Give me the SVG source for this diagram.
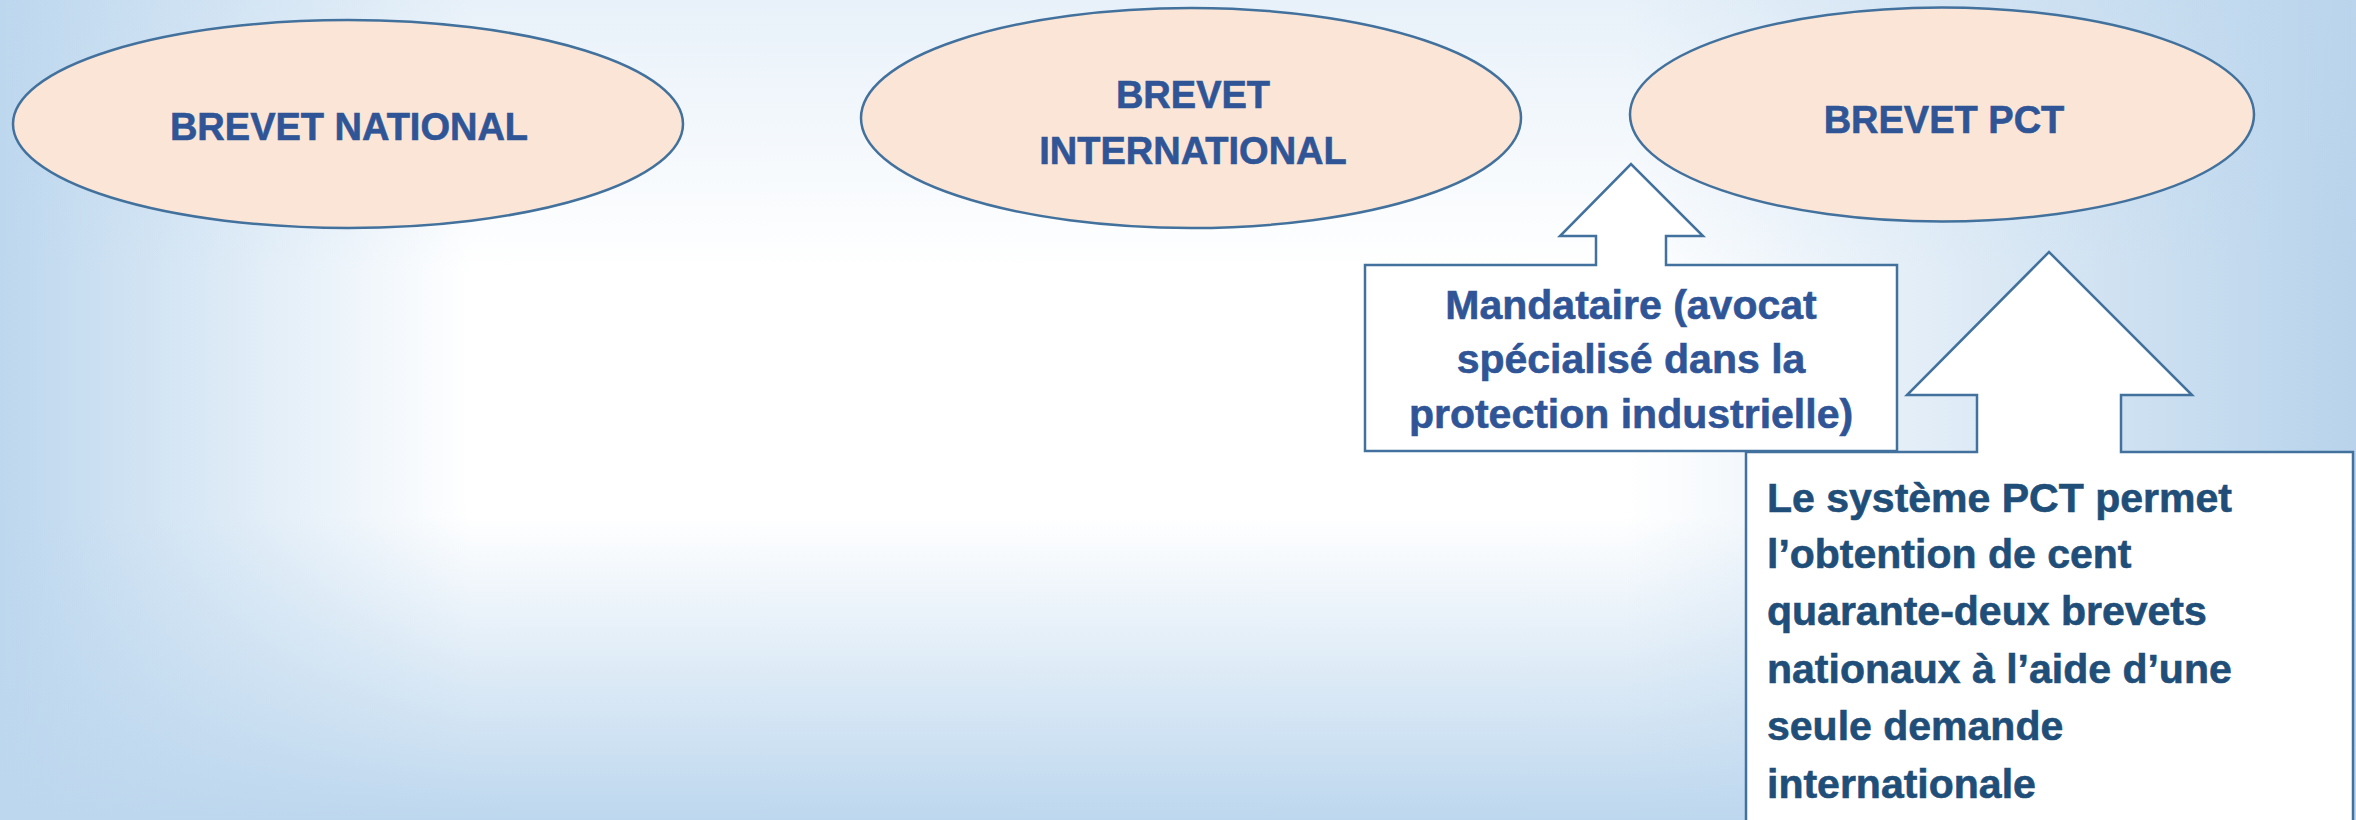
<svg xmlns="http://www.w3.org/2000/svg" width="2356" height="820" viewBox="0 0 2356 820">
  <defs>
    <linearGradient id="bgH" gradientUnits="userSpaceOnUse" x1="0" y1="0" x2="2356" y2="0">
      <stop offset="0" stop-color="#BDD7EE"/>
      <stop offset="0.2" stop-color="#FFFFFF"/>
      <stop offset="0.69" stop-color="#FFFFFF"/>
      <stop offset="1" stop-color="#B8D3EB"/>
    </linearGradient>
    <linearGradient id="bgV" gradientUnits="userSpaceOnUse" x1="0" y1="0" x2="0" y2="820">
      <stop offset="0" stop-color="#BDD7EE" stop-opacity="0.35"/>
      <stop offset="0.33" stop-color="#BDD7EE" stop-opacity="0"/>
      <stop offset="0.63" stop-color="#BDD7EE" stop-opacity="0"/>
      <stop offset="1" stop-color="#BDD7EE" stop-opacity="1"/>
    </linearGradient>
  </defs>
  <style>
    .ell { fill: #FBE5D6; stroke: #41719C; stroke-width: 2.5; }
    .call { fill: #FFFFFF; stroke: #41719C; stroke-width: 2.5; stroke-linejoin: miter; }
    .t1 { font-family: "Liberation Sans", Arial, sans-serif; font-weight: bold; font-size: 38px; fill: #2F5597; stroke: #2F5597; stroke-width: 0.6; text-anchor: middle; }
    .t2 { font-family: "Liberation Sans", Arial, sans-serif; font-weight: bold; font-size: 41px; fill: #2F5597; stroke: #2F5597; stroke-width: 0.6; text-anchor: middle; }
    .t3 { font-family: "Liberation Sans", Arial, sans-serif; font-weight: bold; font-size: 41px; fill: #1F4E79; stroke: #1F4E79; stroke-width: 0.6; }
  </style>

  <g id="background">
    <rect x="0" y="0" width="2356" height="820" fill="url(#bgH)"/>
    <rect x="0" y="0" width="2356" height="820" fill="url(#bgV)"/>
  </g>

  <g id="node-brevet-national">
    <ellipse class="ell" cx="348" cy="124" rx="335" ry="104"/>
    <text class="t1" x="349" y="140">BREVET NATIONAL</text>
  </g>

  <g id="node-brevet-international">
    <ellipse class="ell" cx="1191" cy="118" rx="330" ry="110"/>
    <text class="t1" x="1193" y="108">BREVET</text>
    <text class="t1" x="1193" y="164">INTERNATIONAL</text>
  </g>

  <g id="node-brevet-pct">
    <ellipse class="ell" cx="1942" cy="114.5" rx="312" ry="107"/>
    <text class="t1" x="1944" y="133">BREVET PCT</text>
  </g>

  <g id="node-mandataire">
    <path class="call" d="M1365,265 L1596,265 L1596,236 L1560,236 L1631,164 L1703,236 L1666,236 L1666,265 L1897,265 L1897,451 L1365,451 Z"/>
    <text class="t2" x="1631" y="319">Mandataire (avocat</text>
    <text class="t2" x="1631" y="373">spécialisé dans la</text>
    <text class="t2" x="1631" y="428">protection industrielle)</text>
  </g>

  <g id="node-systeme-pct">
    <path class="call" d="M1746,452 L1977,452 L1977,395 L1907,395 L2049,252 L2192,395 L2121,395 L2121,452 L2353,452 L2353,830 L1746,830 Z"/>
    <text class="t3" x="1767" y="512">Le système PCT permet</text>
    <text class="t3" x="1767" y="568">l’obtention de cent</text>
    <text class="t3" x="1767" y="625">quarante-deux brevets</text>
    <text class="t3" x="1767" y="683">nationaux à l’aide d’une</text>
    <text class="t3" x="1767" y="740">seule demande</text>
    <text class="t3" x="1767" y="798">internationale</text>
  </g>

  <g id="connectors"/>
</svg>
